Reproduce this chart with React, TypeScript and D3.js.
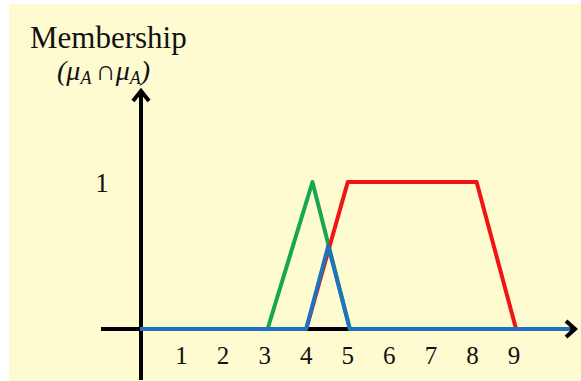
import React from "react";
import * as d3 from "d3";

const xTicks = [1, 2, 3, 4, 5, 6, 7, 8, 9];
const yTicks = [1];
const greenSet: [number, number][] = [[3.07, 0], [4.15, 1], [5.05, 0]];
const redSet: [number, number][] = [[4, 0], [5, 1], [8.1, 1], [9.05, 0]];
const blueSet: [number, number][] = [[0, 0], [4, 0], [4.53, 0.565], [5.05, 0], [10.35, 0]];

const W = 581;
const H = 381;

export default function App() {
  const x = d3.scaleLinear().domain([0, 9]).range([140, 514]);
  const y = d3.scaleLinear().domain([0, 1]).range([329, 182]);
  const line = d3
    .line<[number, number]>()
    .x((d) => x(d[0]))
    .y((d) => y(d[1]));

  const ox = x(0) + 1;
  const oy = y(0);
  const serif = "'Liberation Serif', 'Times New Roman', serif";

  return (
    <div style={{ position: "absolute", left: 0, top: 0 }}>
      <svg width={W} height={H} style={{ display: "block" }}>
        <rect x={0} y={0} width={W} height={H} fill="#ffffff" />
        <rect x={9} y={4} width={W - 9} height={H - 4} fill="#fefbd0" />

        {/* axes */}
        <line x1={ox} y1={380} x2={ox} y2={90} stroke="#000" strokeWidth={4} />
        <polyline
          points={`${ox - 8},${101} ${ox},${91} ${ox + 8},${101}`}
          fill="none"
          stroke="#000"
          strokeWidth={4}
        />
        <line x1={101} y1={oy} x2={574} y2={oy} stroke="#000" strokeWidth={4} />
        <polyline
          points={`${566},${oy - 8} ${575},${oy} ${566},${oy + 8}`}
          fill="none"
          stroke="#000"
          strokeWidth={4}
        />

        {/* sets */}
        <path d={line(greenSet) || ""} fill="none" stroke="#17a84f" strokeWidth={4} strokeLinejoin="round" strokeLinecap="round" />
        <path d={line(redSet) || ""} fill="none" stroke="#f01414" strokeWidth={4} strokeLinejoin="round" />
        <path d={line(blueSet) || ""} fill="none" stroke="#1f72bd" strokeWidth={4} strokeLinejoin="round" />

        {/* tick labels */}
        {xTicks.map((t) => (
          <text key={t} x={x(t)} y={364} textAnchor="middle" fontFamily={serif} fontSize={25} fill="#111">
            {t}
          </text>
        ))}
        {yTicks.map((t) => (
          <text key={t} x={102} y={192} textAnchor="middle" fontFamily={serif} fontSize={27} fill="#111">
            {t}
          </text>
        ))}

        {/* titles */}
        <text x={30} y={48} fontFamily={serif} fontSize={31} fill="#111">
          Membership
        </text>
        <text x={57} y={80} fontFamily={serif} fontSize={28} fontStyle="italic" fill="#111">
          <tspan>(μ</tspan>
          <tspan fontSize={18} dy={4}>A</tspan>
          <tspan dy={-4} dx={4} fontStyle="normal">∩</tspan>
          <tspan>μ</tspan>
          <tspan fontSize={18} dy={4}>A</tspan>
          <tspan dy={-4}>)</tspan>
        </text>
      </svg>
    </div>
  );
}
